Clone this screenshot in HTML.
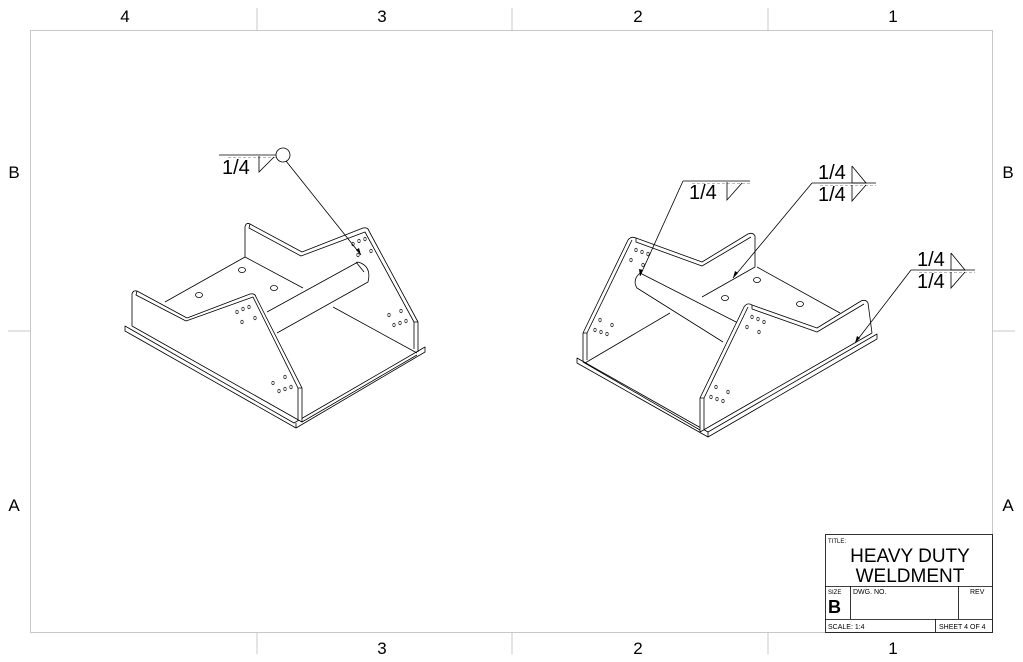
<!DOCTYPE html>
<html><head><style>
html,body{margin:0;padding:0;background:#fff;}
svg{display:block;}
text{font-family:"Liberation Sans",sans-serif;fill:#000;}
</style></head><body>
<svg width="1023" height="662" viewBox="0 0 1023 662" xmlns="http://www.w3.org/2000/svg">
<g stroke="#c8c8c8" stroke-width="1" fill="none">
<rect x="30.5" y="30.5" width="962" height="602"/>
<line x1="257" y1="8" x2="257" y2="30"/><line x1="512" y1="8" x2="512" y2="30"/><line x1="768" y1="8" x2="768" y2="30"/>
<line x1="257" y1="632" x2="257" y2="654"/><line x1="512" y1="632" x2="512" y2="654"/><line x1="768" y1="632" x2="768" y2="654"/>
<line x1="8" y1="331" x2="30" y2="331"/><line x1="992" y1="331" x2="1015" y2="331"/>
</g>
<g font-size="17" text-anchor="middle">
<text x="125" y="22">4</text><text x="382" y="22">3</text><text x="638" y="22">2</text><text x="893" y="22">1</text>
<text x="382" y="654">3</text><text x="638" y="654">2</text><text x="893" y="654">1</text>
<text x="14" y="178">B</text><text x="14" y="511">A</text>
<text x="1008" y="178">B</text><text x="1008" y="511">A</text>
</g>

<g stroke="#000" stroke-width="0.8" fill="none">
<rect x="825.5" y="534.5" width="167" height="98"/>
<line x1="825" y1="586.5" x2="992" y2="586.5"/>
<line x1="825" y1="619.5" x2="992" y2="619.5"/>
<line x1="850.5" y1="586" x2="850.5" y2="619"/>
<line x1="958.5" y1="586" x2="958.5" y2="619"/>
<line x1="935.5" y1="619" x2="935.5" y2="632"/>
</g>
<text x="828" y="543" font-size="6">TITLE:</text>
<text x="910" y="562" font-size="19" text-anchor="middle">HEAVY DUTY</text>
<text x="910" y="582" font-size="19" text-anchor="middle">WELDMENT</text>
<text x="828" y="594" font-size="6">SIZE</text>
<text x="828" y="613" font-size="18" font-weight="bold">B</text>
<text x="853" y="594" font-size="7">DWG.  NO.</text>
<text x="970" y="594" font-size="7">REV</text>
<text x="828" y="629" font-size="7">SCALE: 1:4</text>
<text x="939" y="629" font-size="7">SHEET 4 OF 4</text>

<g stroke="#000" stroke-width="0.8" fill="none" stroke-linejoin="round">
<polygon points="125,326 294,423 425,347 425,352 296,428 125,331"/>
<line x1="296" y1="423" x2="296" y2="428"/>
<line x1="245" y1="257" x2="165" y2="302"/>
<line x1="245" y1="257" x2="303" y2="288"/>
<line x1="333" y1="307" x2="417" y2="353"/>
<line x1="302" y1="422" x2="417" y2="355"/>
<path d="M132,326 L132,294 Q133,290 137,291 L187,318 L250,294 Q255,293 256,297 L302,388 L302,422 L132,326 Z" fill="#fff"/>
<path d="M137,291 L136,295 L186,321 L253,297 L298,388 L302,388"/>
<line x1="298" y1="388" x2="298" y2="420"/>
<path d="M245,257 L245,227 Q246,222 250,224 L302,252 L363,228 Q368,227 369,231 L418,322 L418,352" />
<path d="M250,224 L249,228 L301,256 L365,232 L414,322 L418,322"/>
<line x1="414" y1="322" x2="414" y2="349"/>
<path d="M267,312 L358,262 Q372,266 368,282 L277,333"/>
<line x1="356" y1="262" x2="364" y2="272"/>
<ellipse cx="199" cy="295" rx="3.5" ry="2.5"/>
<ellipse cx="242" cy="270" rx="3.5" ry="2.5"/>
<ellipse cx="274" cy="288" rx="3.5" ry="2.5"/>
</g>
<g fill="none" stroke="#000" stroke-width="0.6">
<ellipse cx="237" cy="312" rx="1.2" ry="1.8"/><ellipse cx="243" cy="309" rx="1.2" ry="1.8"/><ellipse cx="249" cy="307" rx="1.2" ry="1.8"/>
<ellipse cx="242" cy="322" rx="1.2" ry="1.8"/><ellipse cx="255" cy="318" rx="1.2" ry="1.8"/>
<ellipse cx="273" cy="383" rx="1.2" ry="1.8"/><ellipse cx="285" cy="377" rx="1.2" ry="1.8"/>
<ellipse cx="279" cy="391" rx="1.2" ry="1.8"/><ellipse cx="285" cy="389" rx="1.2" ry="1.8"/><ellipse cx="291" cy="387" rx="1.2" ry="1.8"/>
<ellipse cx="353" cy="244" rx="1.2" ry="1.8"/><ellipse cx="359" cy="241" rx="1.2" ry="1.8"/><ellipse cx="365" cy="239" rx="1.2" ry="1.8"/>
<ellipse cx="358" cy="255" rx="1.2" ry="1.8"/><ellipse cx="371" cy="251" rx="1.2" ry="1.8"/>
<ellipse cx="389" cy="315" rx="1.2" ry="1.8"/><ellipse cx="401" cy="311" rx="1.2" ry="1.8"/>
<ellipse cx="394" cy="325" rx="1.2" ry="1.8"/><ellipse cx="400" cy="323" rx="1.2" ry="1.8"/><ellipse cx="406" cy="321" rx="1.2" ry="1.8"/>
</g>
<g stroke="#000" stroke-width="0.8" fill="none">
<line x1="219" y1="155" x2="276" y2="155"/>
<line x1="228" y1="157.5" x2="276" y2="157.5" stroke-dasharray="3,2" stroke="#777" stroke-width="0.5"/>
<polyline points="259,156 259,172 274,157"/>
<circle cx="283" cy="155" r="7"/>
<line x1="286" y1="161" x2="361" y2="255"/>
</g>
<polygon points="361,255 356,250 359,248" fill="#000"/>
<text x="222" y="174" font-size="20">1/4</text>

<g stroke="#000" stroke-width="0.8" fill="none" stroke-linejoin="round">
<polygon points="577,358 708,432 877,334 877,339 708,437 577,363"/>
<line x1="708" y1="432" x2="708" y2="437"/>
<line x1="585" y1="363" x2="670" y2="313"/>
<line x1="755" y1="267" x2="702" y2="297"/>
<line x1="757" y1="267" x2="840" y2="313"/>
<line x1="583" y1="362" x2="700" y2="430"/>
<path d="M583,362 L583,333 L628,240 Q631,236 636,238 L702,262 L748,234 Q753,232 755,236 L755,267"/>
<path d="M583,333 L587,333 L632,240 M636,238 L636,242 L702,266 L751,237"/>
<line x1="587" y1="333" x2="587" y2="360"/>
<path d="M740,324 L640,273 Q632,280 637,288 L723,342"/>
<path d="M700,432 L700,398 L744,307 Q747,302 752,305 L817,328 L861,301 Q866,299 868,303 L872,333 L700,432 Z" fill="#fff"/>
<path d="M700,398 L704,398 L748,307 M752,305 L752,309 L817,332 L864,304"/>
<line x1="704" y1="398" x2="704" y2="430"/>
<ellipse cx="757" cy="280" rx="3.5" ry="2.5"/>
<ellipse cx="725" cy="298" rx="3.5" ry="2.5"/>
<ellipse cx="800" cy="304" rx="3.5" ry="2.5"/>
</g>
<g fill="none" stroke="#000" stroke-width="0.6">
<ellipse cx="636" cy="250" rx="1.2" ry="1.8"/><ellipse cx="642" cy="252" rx="1.2" ry="1.8"/><ellipse cx="648" cy="254" rx="1.2" ry="1.8"/>
<ellipse cx="631" cy="260" rx="1.2" ry="1.8"/><ellipse cx="643" cy="265" rx="1.2" ry="1.8"/>
<ellipse cx="600" cy="320" rx="1.2" ry="1.8"/><ellipse cx="612" cy="325" rx="1.2" ry="1.8"/>
<ellipse cx="595" cy="330" rx="1.2" ry="1.8"/><ellipse cx="601" cy="332" rx="1.2" ry="1.8"/><ellipse cx="607" cy="334" rx="1.2" ry="1.8"/>
<ellipse cx="752" cy="317" rx="1.2" ry="1.8"/><ellipse cx="758" cy="319" rx="1.2" ry="1.8"/><ellipse cx="764" cy="322" rx="1.2" ry="1.8"/>
<ellipse cx="747" cy="327" rx="1.2" ry="1.8"/><ellipse cx="759" cy="332" rx="1.2" ry="1.8"/>
<ellipse cx="716" cy="387" rx="1.2" ry="1.8"/><ellipse cx="728" cy="392" rx="1.2" ry="1.8"/>
<ellipse cx="711" cy="397" rx="1.2" ry="1.8"/><ellipse cx="717" cy="399" rx="1.2" ry="1.8"/><ellipse cx="723" cy="401" rx="1.2" ry="1.8"/>
</g>
<g stroke="#000" stroke-width="0.8" fill="none">
<line x1="683" y1="181" x2="750" y2="181"/>
<line x1="692" y1="183.5" x2="750" y2="183.5" stroke-dasharray="3,2" stroke="#777" stroke-width="0.5"/>
<polyline points="727,182 727,200 742,183"/>
<line x1="683" y1="181" x2="640" y2="276"/>
<line x1="812" y1="183" x2="876" y2="183"/>
<line x1="820" y1="185.5" x2="876" y2="185.5" stroke-dasharray="3,2" stroke="#777" stroke-width="0.5"/>
<polyline points="852,166 852,183 866,183 852,166"/>
<polyline points="852,185 852,201 866,185"/>
<line x1="812" y1="183" x2="733" y2="278"/>
<line x1="911" y1="270" x2="975" y2="270"/>
<line x1="919" y1="272.5" x2="975" y2="272.5" stroke-dasharray="3,2" stroke="#777" stroke-width="0.5"/>
<polyline points="951,253 951,270 965,270 951,253"/>
<polyline points="951,272 951,288 965,272"/>
<line x1="911" y1="270" x2="855" y2="343"/>
</g>
<g fill="#000">
<polygon points="640,276 639,269 643,270"/>
<polygon points="733,278 735,271 738,273"/>
<polygon points="855,343 857,336 860,338"/>
</g>
<g font-size="20">
<text x="689" y="199">1/4</text>
<text x="818" y="179">1/4</text><text x="818" y="201">1/4</text>
<text x="917" y="266">1/4</text><text x="917" y="288">1/4</text>
</g>
</svg>
</body></html>
